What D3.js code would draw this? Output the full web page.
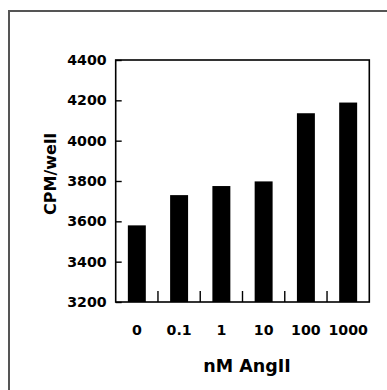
<!DOCTYPE html>
<html><head><meta charset="utf-8">
<script src="https://cdn.jsdelivr.net/npm/d3@7/dist/d3.min.js"></script>
<style>html,body{margin:0;padding:0;background:#fff;overflow:hidden}</style>
</head><body>
<script>
const categories = ["0", "0.1", "1", "10", "100", "1000"];
const values = [3580, 3730, 3775, 3798, 4136, 4189];
const yTicks = [3200, 3400, 3600, 3800, 4000, 4200, 4400];
const yTitle = "CPM/well";
const xTitle = "nM AngII";

const W = 387, H = 390;
const svg = d3.select("body").append("svg").attr("width", W).attr("height", H);
svg.append("rect").attr("width", W).attr("height", H).attr("fill", "#fff");

// outer frame (gray)
svg.append("path").attr("d", `M9,${H} V11 H${W}`).attr("fill", "none")
  .attr("stroke", "#555").attr("stroke-width", 2);

const L = 115.7, R = 369.3, T = 60, B = 302;
const x = d3.scaleBand().domain(categories).range([L, R]).paddingInner(0.575).paddingOuter(0.2875);
const y = d3.scaleLinear().domain([3200, 4400]).range([B, T]);

const font = "'DejaVu Sans', sans-serif";

svg.append("g").selectAll("rect").data(values).join("rect")
  .attr("x", (d, i) => x(categories[i]))
  .attr("width", x.bandwidth())
  .attr("y", d => y(d))
  .attr("height", d => B - y(d))
  .attr("fill", "#000");

// plot box
svg.append("rect").attr("x", L).attr("y", T).attr("width", R - L).attr("height", B - T)
  .attr("fill", "none").attr("stroke", "#000").attr("stroke-width", 1.6);

// y axis
const yAxis = d3.axisLeft(y).tickValues(yTicks).tickFormat(d3.format("d"))
  .tickSizeInner(-6).tickSizeOuter(0).tickPadding(9);
const gy = svg.append("g").attr("transform", `translate(${L},0)`).call(yAxis);
gy.select(".domain").remove();
gy.selectAll(".tick line").attr("stroke", "#000").attr("stroke-width", 1.4);
gy.selectAll(".tick text").attr("font-family", font).attr("font-weight", "bold")
  .attr("font-size", 14.2).attr("fill", "#000");

// x axis: labels centered on bars, ticks at band boundaries
const xAxis = d3.axisBottom(x).tickSize(0).tickPadding(0);
const gx = svg.append("g").attr("transform", `translate(0,${B})`).call(xAxis);
gx.select(".domain").remove();
gx.selectAll(".tick text").attr("font-family", font).attr("font-weight", "bold")
  .attr("font-size", 14.2).attr("fill", "#000").attr("dy", null).attr("y", 33);

const step = x.step();
const bounds = categories.slice(1).map(c => x(c) - (step - x.bandwidth()) / 2);
svg.append("g").selectAll("line").data(bounds).join("line")
  .attr("x1", d => d).attr("x2", d => d).attr("y1", B).attr("y2", B - 11)
  .attr("stroke", "#000").attr("stroke-width", 1.4);

// titles
svg.append("text").attr("x", 247).attr("y", 372).attr("text-anchor", "middle")
  .attr("font-family", font).attr("font-weight", "bold").attr("font-size", 17.5)
  .attr("fill", "#000").text(xTitle);
svg.append("text").attr("transform", "translate(55.5,174) rotate(-90)").attr("text-anchor", "middle")
  .attr("font-family", font).attr("font-weight", "bold").attr("font-size", 16)
  .attr("fill", "#000").text(yTitle);
</script>
</body></html>
